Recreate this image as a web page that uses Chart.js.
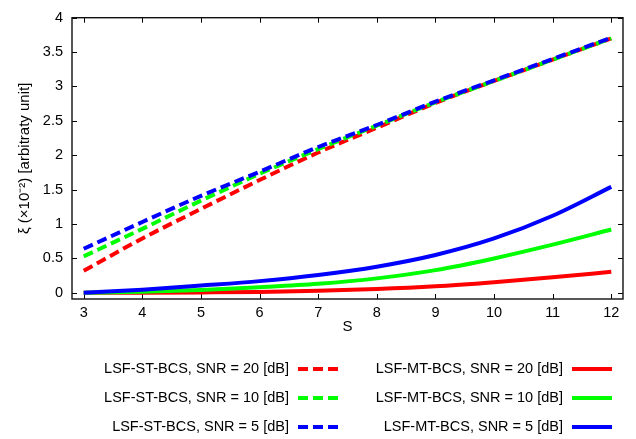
<!DOCTYPE html>
<html>
<head>
<meta charset="utf-8">
<script src="https://cdn.jsdelivr.net/npm/chart.js@4.4.1/dist/chart.umd.min.js"></script>
<style>
  html, body { margin: 0; padding: 0; background: #fff; }
  #chart { display: block; }
</style>
</head>
<body>
<canvas id="chart" width="636" height="439"></canvas>
<script>
// --- Dados ---
const S_VALUES = [3, 4, 5, 6, 7, 8, 9, 10, 11, 12];
const ST_SNR20 = [0.32, 0.79, 1.22, 1.64, 2.04, 2.40, 2.76, 3.08, 3.39, 3.70];
const ST_SNR10 = [0.53, 0.93, 1.34, 1.73, 2.09, 2.43, 2.77, 3.08, 3.39, 3.70];
const ST_SNR5  = [0.64, 1.03, 1.41, 1.76, 2.12, 2.44, 2.78, 3.09, 3.40, 3.71];
const MT_SNR20 = [0.0, 0.002, 0.006, 0.013, 0.03, 0.055, 0.095, 0.155, 0.225, 0.305];
const MT_SNR10 = [0.0, 0.015, 0.04, 0.08, 0.13, 0.21, 0.33, 0.50, 0.70, 0.92];
const MT_SNR5  = [0.0, 0.045, 0.105, 0.17, 0.26, 0.38, 0.55, 0.79, 1.12, 1.54];

const LABELS = [
  "LSF-ST-BCS, SNR = 20 [dB]", "LSF-ST-BCS, SNR = 10 [dB]", "LSF-ST-BCS, SNR = 5 [dB]",
  "LSF-MT-BCS, SNR = 20 [dB]", "LSF-MT-BCS, SNR = 10 [dB]", "LSF-MT-BCS, SNR = 5 [dB]"
];
const SERIES = [ST_SNR20, ST_SNR10, ST_SNR5, MT_SNR20, MT_SNR10, MT_SNR5];
const COLORS = ["#ff0000", "#00ff00", "#0000ff", "#ff0000", "#00ff00", "#0000ff"];
const DASH = [10, 5];
const FONT = "'Liberation Sans', Arial, Helvetica, sans-serif";

const toPoints = (ys) => S_VALUES.map((x, i) => ({ x: x, y: ys[i] }));

const datasets = SERIES.map((ys, i) => ({
  label: LABELS[i],
  data: toPoints(ys),
  borderColor: COLORS[i],
  backgroundColor: COLORS[i],
  borderWidth: 4,
  borderDash: i < 3 ? DASH : [],
  borderCapStyle: "butt",
  pointRadius: 0,
  fill: false,
  cubicInterpolationMode: "monotone",
  // o azul fica por cima, como no gnuplot
  order: i < 3 ? 2 - i : 5 - i + 3
}));

// moldura + ticks para dentro (estilo gnuplot)
const framePlugin = {
  id: "frame",
  beforeDatasetsDraw(chart) {
    const { ctx, chartArea: a, scales } = chart;
    const len = 5;
    ctx.save();
    ctx.strokeStyle = "#000";
    ctx.lineWidth = 1;
    ctx.beginPath();
    scales.x.ticks.forEach(t => {
      const px = Math.round(scales.x.getPixelForValue(t.value)) + 0.5;
      ctx.moveTo(px, a.bottom); ctx.lineTo(px, a.bottom - len);
      ctx.moveTo(px, a.top); ctx.lineTo(px, a.top + len);
    });
    scales.y.ticks.forEach(t => {
      const py = Math.round(scales.y.getPixelForValue(t.value)) + 0.5;
      ctx.moveTo(a.left, py); ctx.lineTo(a.left + len, py);
      ctx.moveTo(a.right, py); ctx.lineTo(a.right - len, py);
    });
    ctx.stroke();
    ctx.lineWidth = 1.4;
    ctx.strokeStyle = "#111";
    ctx.strokeRect(a.left, a.top, a.right - a.left, a.bottom - a.top);
    ctx.restore();
  }
};

// legenda em duas colunas, texto à esquerda da amostra
const legendPlugin = {
  id: "bottomLegend",
  afterDraw(chart) {
    const ctx = chart.ctx;
    const rows = [369, 398, 427];
    const cols = [{ textRight: 289, x0: 298, x1: 338 }, { textRight: 563, x0: 572, x1: 612 }];
    ctx.save();
    ctx.font = "14.5px " + FONT;
    ctx.textAlign = "right";
    ctx.textBaseline = "middle";
    ctx.fillStyle = "#000";
    chart.data.datasets.forEach((ds, i) => {
      const col = cols[Math.floor(i / 3)];
      const y = rows[i % 3];
      ctx.fillText(ds.label, col.textRight, y);
      ctx.beginPath();
      ctx.strokeStyle = ds.borderColor;
      ctx.lineWidth = 4;
      ctx.setLineDash(ds.borderDash);
      ctx.moveTo(col.x0, y);
      ctx.lineTo(col.x1, y);
      ctx.stroke();
    });
    ctx.restore();
  }
};

new Chart(document.getElementById("chart"), {
  type: "line",
  data: { datasets: datasets },
  options: {
    responsive: false,
    animation: false,
    devicePixelRatio: 1,
    layout: { padding: { left: 0, top: 11, right: 13, bottom: 100 } },
    plugins: { legend: { display: false }, tooltip: { enabled: false } },
    scales: {
      x: {
        type: "linear",
        min: 2.8,
        max: 12.2,
        afterFit: (s) => { s.height = 40; },
        grid: { display: false, drawTicks: false },
        border: { display: false },
        ticks: {
          stepSize: 1,
          includeBounds: false,
          padding: 5,
          color: "#000",
          font: { family: FONT, size: 14.5 },
          maxRotation: 0,
          callback: (v) => String(v)
        },
        title: {
          display: true,
          text: "S",
          color: "#000",
          font: { family: FONT, size: 15 },
          padding: { top: 0, bottom: 3 }
        }
      },
      y: {
        type: "linear",
        min: -0.09,
        max: 4,
        afterFit: (s) => { s.width = 72; },
        grid: { display: false, drawTicks: false },
        border: { display: false },
        ticks: {
          stepSize: 0.5,
          includeBounds: false,
          padding: 9,
          color: "#000",
          font: { family: FONT, size: 14.5 },
          callback: (v) => String(v)
        },
        title: {
          display: true,
          text: "ξ (×10⁻²) [arbitraty unit]",
          color: "#000",
          font: { family: FONT, size: 15 },
          padding: { top: 16, bottom: 0 }
        }
      }
    }
  },
  plugins: [framePlugin, legendPlugin]
});
</script>
</body>
</html>
